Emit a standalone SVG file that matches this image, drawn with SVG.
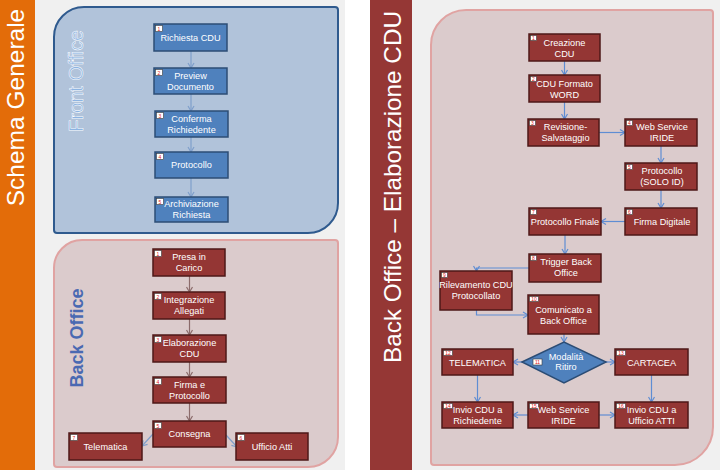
<svg xmlns="http://www.w3.org/2000/svg" width="720" height="470" viewBox="0 0 720 470">
<defs>
<marker id="ab" markerWidth="8" markerHeight="8" refX="6" refY="4" orient="auto" markerUnits="userSpaceOnUse"><path d="M1,1 L6,4 L1,7" fill="none" stroke="#7F9FCB" stroke-width="1.2"/></marker>
<marker id="ar" markerWidth="8" markerHeight="8" refX="6" refY="4" orient="auto" markerUnits="userSpaceOnUse"><path d="M1,1 L6,4 L1,7" fill="none" stroke="#8B6B6B" stroke-width="1.2"/></marker>
<marker id="ac" markerWidth="8" markerHeight="8" refX="6" refY="4" orient="auto" markerUnits="userSpaceOnUse"><path d="M1,1 L6,4 L1,7" fill="none" stroke="#5F8DD3" stroke-width="1.2"/></marker>
</defs>
<style>
.bx{fill:#4F81BD;stroke:#2C4D75;stroke-width:1.5}
.rx{fill:#943634;stroke:#4E1817;stroke-width:1.5}
.bd{fill:#FFFFFF;stroke:#3A3A3A;stroke-width:0.6}
.bn{font-family:"Liberation Sans",Arial,sans-serif;font-size:5px;fill:#E02020;text-anchor:middle}
.t{font-family:"Liberation Sans",Arial,sans-serif;font-size:9.2px;fill:#FFFFFF;text-anchor:middle}
.cb{fill:none;stroke:#7F9FCB;stroke-width:1.2;marker-end:url(#ab)}
.cr{fill:none;stroke:#8B6B6B;stroke-width:1.2;marker-end:url(#ar)}
.cc{fill:none;stroke:#5F8DD3;stroke-width:1.2;marker-end:url(#ac)}
.ttl{font-family:"Liberation Sans",Arial,sans-serif;fill:#FFFFFF;text-anchor:middle}
</style>
<!-- backgrounds -->
<rect x="0" y="0" width="720" height="470" fill="#FFFFFF"/>
<rect x="35" y="0" width="310" height="470" fill="#F0F0F0"/>
<rect x="412" y="0" width="308" height="470" fill="#F0F0F0"/>
<rect x="0" y="0" width="35" height="470" fill="#E36C09"/>
<rect x="370" y="0" width="42" height="470" fill="#953735"/>
<text class="ttl" transform="translate(24,107.5) rotate(-90)" font-size="24.5">Schema Generale</text>
<text class="ttl" transform="translate(401,187) rotate(-90)" font-size="24.3">Back Office – Elaborazione CDU</text>

<!-- panels -->
<g id="panel-front">
<path d="M54,37 A30,30 0 0 1 84,7 L335,7 Q338,7 338,10 L338,203 A30,30 0 0 1 308,233 L57,233 Q54,233 54,230 Z" fill="#B1C3DA" stroke="#2F5A8E" stroke-width="2"/>
<text transform="translate(83,81) rotate(-90)" font-family="Liberation Sans,Arial,sans-serif" font-size="19.5" fill="#8DB4E2" stroke="#FFFFFF" stroke-width="0.5" text-anchor="middle">Front Office</text>
</g>
<g id="panel-back">
<path d="M54,268 A28,28 0 0 1 82,240 L335,240 Q338,240 338,243 L338,437 A30,30 0 0 1 308,467 L57,467 Q54,467 54,464 Z" fill="#DBCBCC" stroke="#E0A3A2" stroke-width="2"/>
<text transform="translate(83,338) rotate(-90)" font-family="Liberation Sans,Arial,sans-serif" font-size="18" font-weight="700" fill="#4A69B2" text-anchor="middle">Back Office</text>
</g>
<g id="panel-elab">
<path d="M431,45 A35,35 0 0 1 466,10 L710,10 Q713,10 713,13 L713,427 A38,38 0 0 1 675,465 L434,465 Q431,465 431,462 Z" fill="#DBCBCC" stroke="#E0A3A2" stroke-width="2"/>
</g>

<!-- connectors -->
<g id="connectors">
<path class="cb" d="M191,51 V68"/>
<path class="cb" d="M191,94 V111"/>
<path class="cb" d="M191,137 V152"/>
<path class="cb" d="M191,178 V197"/>
<path class="cr" d="M189.5,276 V292"/>
<path class="cr" d="M189.5,319 V335"/>
<path class="cr" d="M189.5,362 V377"/>
<path class="cr" d="M189.5,403 V421"/>
<path class="cb" d="M153,434 L142,446"/>
<path class="cb" d="M226,435 L237,447"/>
<path class="cc" d="M564.5,61 V75"/>
<path class="cc" d="M564.5,102 V119"/>
<path class="cc" d="M599,132.5 H625"/>
<path class="cc" d="M661,146 V163"/>
<path class="cc" d="M661,190 V208"/>
<path class="cc" d="M625,221.5 H601"/>
<path class="cc" d="M565,235 V254"/>
<path class="cc" d="M529,268 H476.5 V271"/>
<path class="cc" d="M476.5,310 V315 H528"/>
<path class="cc" d="M564,334 V342"/>
<path class="cc" d="M522,362 H513"/>
<path class="cc" d="M606,362 H615"/>
<path class="cc" d="M477.5,375 V402"/>
<path class="cc" d="M651.5,375 V402"/>
<path class="cc" d="M528,415 H513"/>
<path class="cc" d="M599,415 H615"/>
</g>

<!-- Front office nodes -->
<g id="fo1"><rect class="bx" x="154" y="24" width="73" height="27"/><rect class="bd" x="155.5" y="25.5" width="7" height="6"/><text class="bn" x="159" y="30.5">1</text><text class="t" x="190.5" y="40.5">Richiesta CDU</text></g>
<g id="fo2"><rect class="bx" x="154" y="68" width="73" height="26"/><rect class="bd" x="155.5" y="69.5" width="7" height="6"/><text class="bn" x="159" y="74.5">2</text><text class="t" x="190.5" y="78.5">Preview</text><text class="t" x="190.5" y="89.5">Documento</text></g>
<g id="fo3"><rect class="bx" x="155" y="111" width="73" height="26"/><rect class="bd" x="156.5" y="112.5" width="7" height="6"/><text class="bn" x="160" y="117.5">3</text><text class="t" x="191.5" y="121.5">Conferma</text><text class="t" x="191.5" y="132.5">Richiedente</text></g>
<g id="fo4"><rect class="bx" x="155" y="152" width="73" height="26"/><rect class="bd" x="156.5" y="153.5" width="7" height="6"/><text class="bn" x="160" y="158.5">4</text><text class="t" x="191.5" y="168">Protocollo</text></g>
<g id="fo5"><rect class="bx" x="155" y="197" width="73" height="25"/><rect class="bd" x="156.5" y="198.5" width="7" height="6"/><text class="bn" x="160" y="203.5">5</text><text class="t" x="191.5" y="207">Archiviazione</text><text class="t" x="191.5" y="218">Richiesta</text></g>

<!-- Back office nodes (left) -->
<g id="bo1"><rect class="rx" x="153" y="249" width="72" height="27"/><rect class="bd" x="154.5" y="250.5" width="7" height="6"/><text class="bn" x="158" y="255.5">1</text><text class="t" x="189" y="259.5">Presa in</text><text class="t" x="189" y="270.5">Carico</text></g>
<g id="bo2"><rect class="rx" x="153" y="292" width="72" height="27"/><rect class="bd" x="154.5" y="293.5" width="7" height="6"/><text class="bn" x="158" y="298.5">2</text><text class="t" x="189" y="302.5">Integrazione</text><text class="t" x="189" y="313.5">Allegati</text></g>
<g id="bo3"><rect class="rx" x="153" y="335" width="73" height="27"/><rect class="bd" x="154.5" y="336.5" width="7" height="6"/><text class="bn" x="158" y="341.5">3</text><text class="t" x="189.5" y="345.5">Elaborazione</text><text class="t" x="189.5" y="356.5">CDU</text></g>
<g id="bo4"><rect class="rx" x="153" y="377" width="73" height="26"/><rect class="bd" x="154.5" y="378.5" width="7" height="6"/><text class="bn" x="158" y="383.5">4</text><text class="t" x="189.5" y="387.5">Firma e</text><text class="t" x="189.5" y="398.5">Protocollo</text></g>
<g id="bo5"><rect class="rx" x="153" y="421" width="73" height="26"/><rect class="bd" x="154.5" y="422.5" width="7" height="6"/><text class="bn" x="158" y="427.5">5</text><text class="t" x="189.5" y="437">Consegna</text></g>
<g id="bo7"><rect class="rx" x="69" y="433" width="73" height="27"/><rect class="bd" x="70.5" y="434.5" width="7" height="6"/><text class="bn" x="74" y="439.5">7</text><text class="t" x="105.5" y="449.5">Telematica</text></g>
<g id="bo6"><rect class="rx" x="236" y="433" width="72" height="27"/><rect class="bd" x="237.5" y="434.5" width="7" height="6"/><text class="bn" x="241" y="439.5">6</text><text class="t" x="272" y="449.5">Ufficio Atti</text></g>

<!-- Elaborazione CDU nodes -->
<g id="el1"><rect class="rx" x="529" y="34" width="71" height="27"/><rect class="bd" x="530.5" y="35.5" width="6" height="5"/><text class="bn" x="533.5" y="40">1</text><text class="t" x="564.5" y="45.5">Creazione</text><text class="t" x="564.5" y="56.5">CDU</text></g>
<g id="el2"><rect class="rx" x="529" y="75" width="71" height="27"/><rect class="bd" x="530.5" y="76.5" width="6" height="5"/><text class="bn" x="533.5" y="81">2</text><text class="t" x="564.5" y="86.5">CDU Formato</text><text class="t" x="564.5" y="97.5">WORD</text></g>
<g id="el3"><rect class="rx" x="528" y="119" width="71" height="27"/><rect class="bd" x="529.5" y="120.5" width="6" height="5"/><text class="bn" x="532.5" y="125">3</text><text class="t" x="565.5" y="129.5">Revisione-</text><text class="t" x="565.5" y="140.5">Salvataggio</text></g>
<g id="el4"><rect class="rx" x="625" y="119" width="72" height="27"/><rect class="bd" x="626.5" y="120.5" width="6" height="5"/><text class="bn" x="629.5" y="125">4</text><text class="t" x="662" y="129.5">Web Service</text><text class="t" x="662" y="140.5">IRIDE</text></g>
<g id="el5"><rect class="rx" x="625" y="163" width="72" height="27"/><rect class="bd" x="626.5" y="164.5" width="6" height="5"/><text class="bn" x="629.5" y="169">5</text><text class="t" x="662" y="173.5">Protocollo</text><text class="t" x="662" y="184.5">(SOLO ID)</text></g>
<g id="el6"><rect class="rx" x="625" y="208" width="72" height="27"/><rect class="bd" x="626.5" y="209.5" width="6" height="5"/><text class="bn" x="629.5" y="214">6</text><text class="t" x="662" y="224.5">Firma Digitale</text></g>
<g id="el7"><rect class="rx" x="529" y="208" width="72" height="27"/><rect class="bd" x="530.5" y="209.5" width="6" height="5"/><text class="bn" x="533.5" y="214">7</text><text class="t" x="565" y="224.5">Protocollo Finale</text></g>
<g id="el8"><rect class="rx" x="529" y="254" width="72" height="28"/><rect class="bd" x="530.5" y="255.5" width="6" height="5"/><text class="bn" x="533.5" y="260">8</text><text class="t" x="566" y="265">Trigger Back</text><text class="t" x="566" y="276">Office</text></g>
<g id="el9"><rect class="rx" x="440" y="271" width="72" height="39"/><rect class="bd" x="441.5" y="272.5" width="6" height="5"/><text class="bn" x="444.5" y="277">9</text><text class="t" x="476" y="288">Rilevamento CDU</text><text class="t" x="476" y="299">Protocollato</text></g>
<g id="el10"><rect class="rx" x="528" y="295" width="71" height="39"/><rect class="bd" x="529.5" y="296.5" width="9" height="5"/><text class="bn" x="534" y="301">10</text><text class="t" x="563.5" y="313">Comunicato a</text><text class="t" x="563.5" y="324">Back Office</text></g>
<g id="el11"><path d="M522,362 L564,342 L606,362 L564,383 Z" fill="#4F81BD" stroke="#2C4D75" stroke-width="1.5"/><rect class="bd" x="533" y="359" width="9" height="6"/><text class="bn" x="537.5" y="364">11</text><text class="t" x="566" y="360">Modalità</text><text class="t" x="566" y="370">Ritiro</text></g>
<g id="el12"><rect class="rx" x="442" y="349" width="71" height="26"/><rect class="bd" x="443.5" y="350.5" width="9" height="5"/><text class="bn" x="448" y="355">12</text><text class="t" x="477.5" y="365.5">TELEMATICA</text></g>
<g id="el13"><rect class="rx" x="615" y="349" width="73" height="26"/><rect class="bd" x="616.5" y="350.5" width="9" height="5"/><text class="bn" x="621" y="355">13</text><text class="t" x="651.5" y="365.5">CARTACEA</text></g>
<g id="el14"><rect class="rx" x="442" y="402" width="71" height="26"/><rect class="bd" x="443.5" y="403.5" width="9" height="5"/><text class="bn" x="448" y="408">14</text><text class="t" x="477.5" y="412.5">Invio CDU a</text><text class="t" x="477.5" y="423.5">Richiedente</text></g>
<g id="el15"><rect class="rx" x="528" y="402" width="71" height="26"/><rect class="bd" x="529.5" y="403.5" width="9" height="5"/><text class="bn" x="534" y="408">15</text><text class="t" x="563.5" y="412.5">Web Service</text><text class="t" x="563.5" y="423.5">IRIDE</text></g>
<g id="el16"><rect class="rx" x="615" y="402" width="73" height="26"/><rect class="bd" x="616.5" y="403.5" width="9" height="5"/><text class="bn" x="621" y="408">16</text><text class="t" x="651.5" y="412.5">Invio CDU a</text><text class="t" x="651.5" y="423.5">Ufficio ATTI</text></g>
</svg>
